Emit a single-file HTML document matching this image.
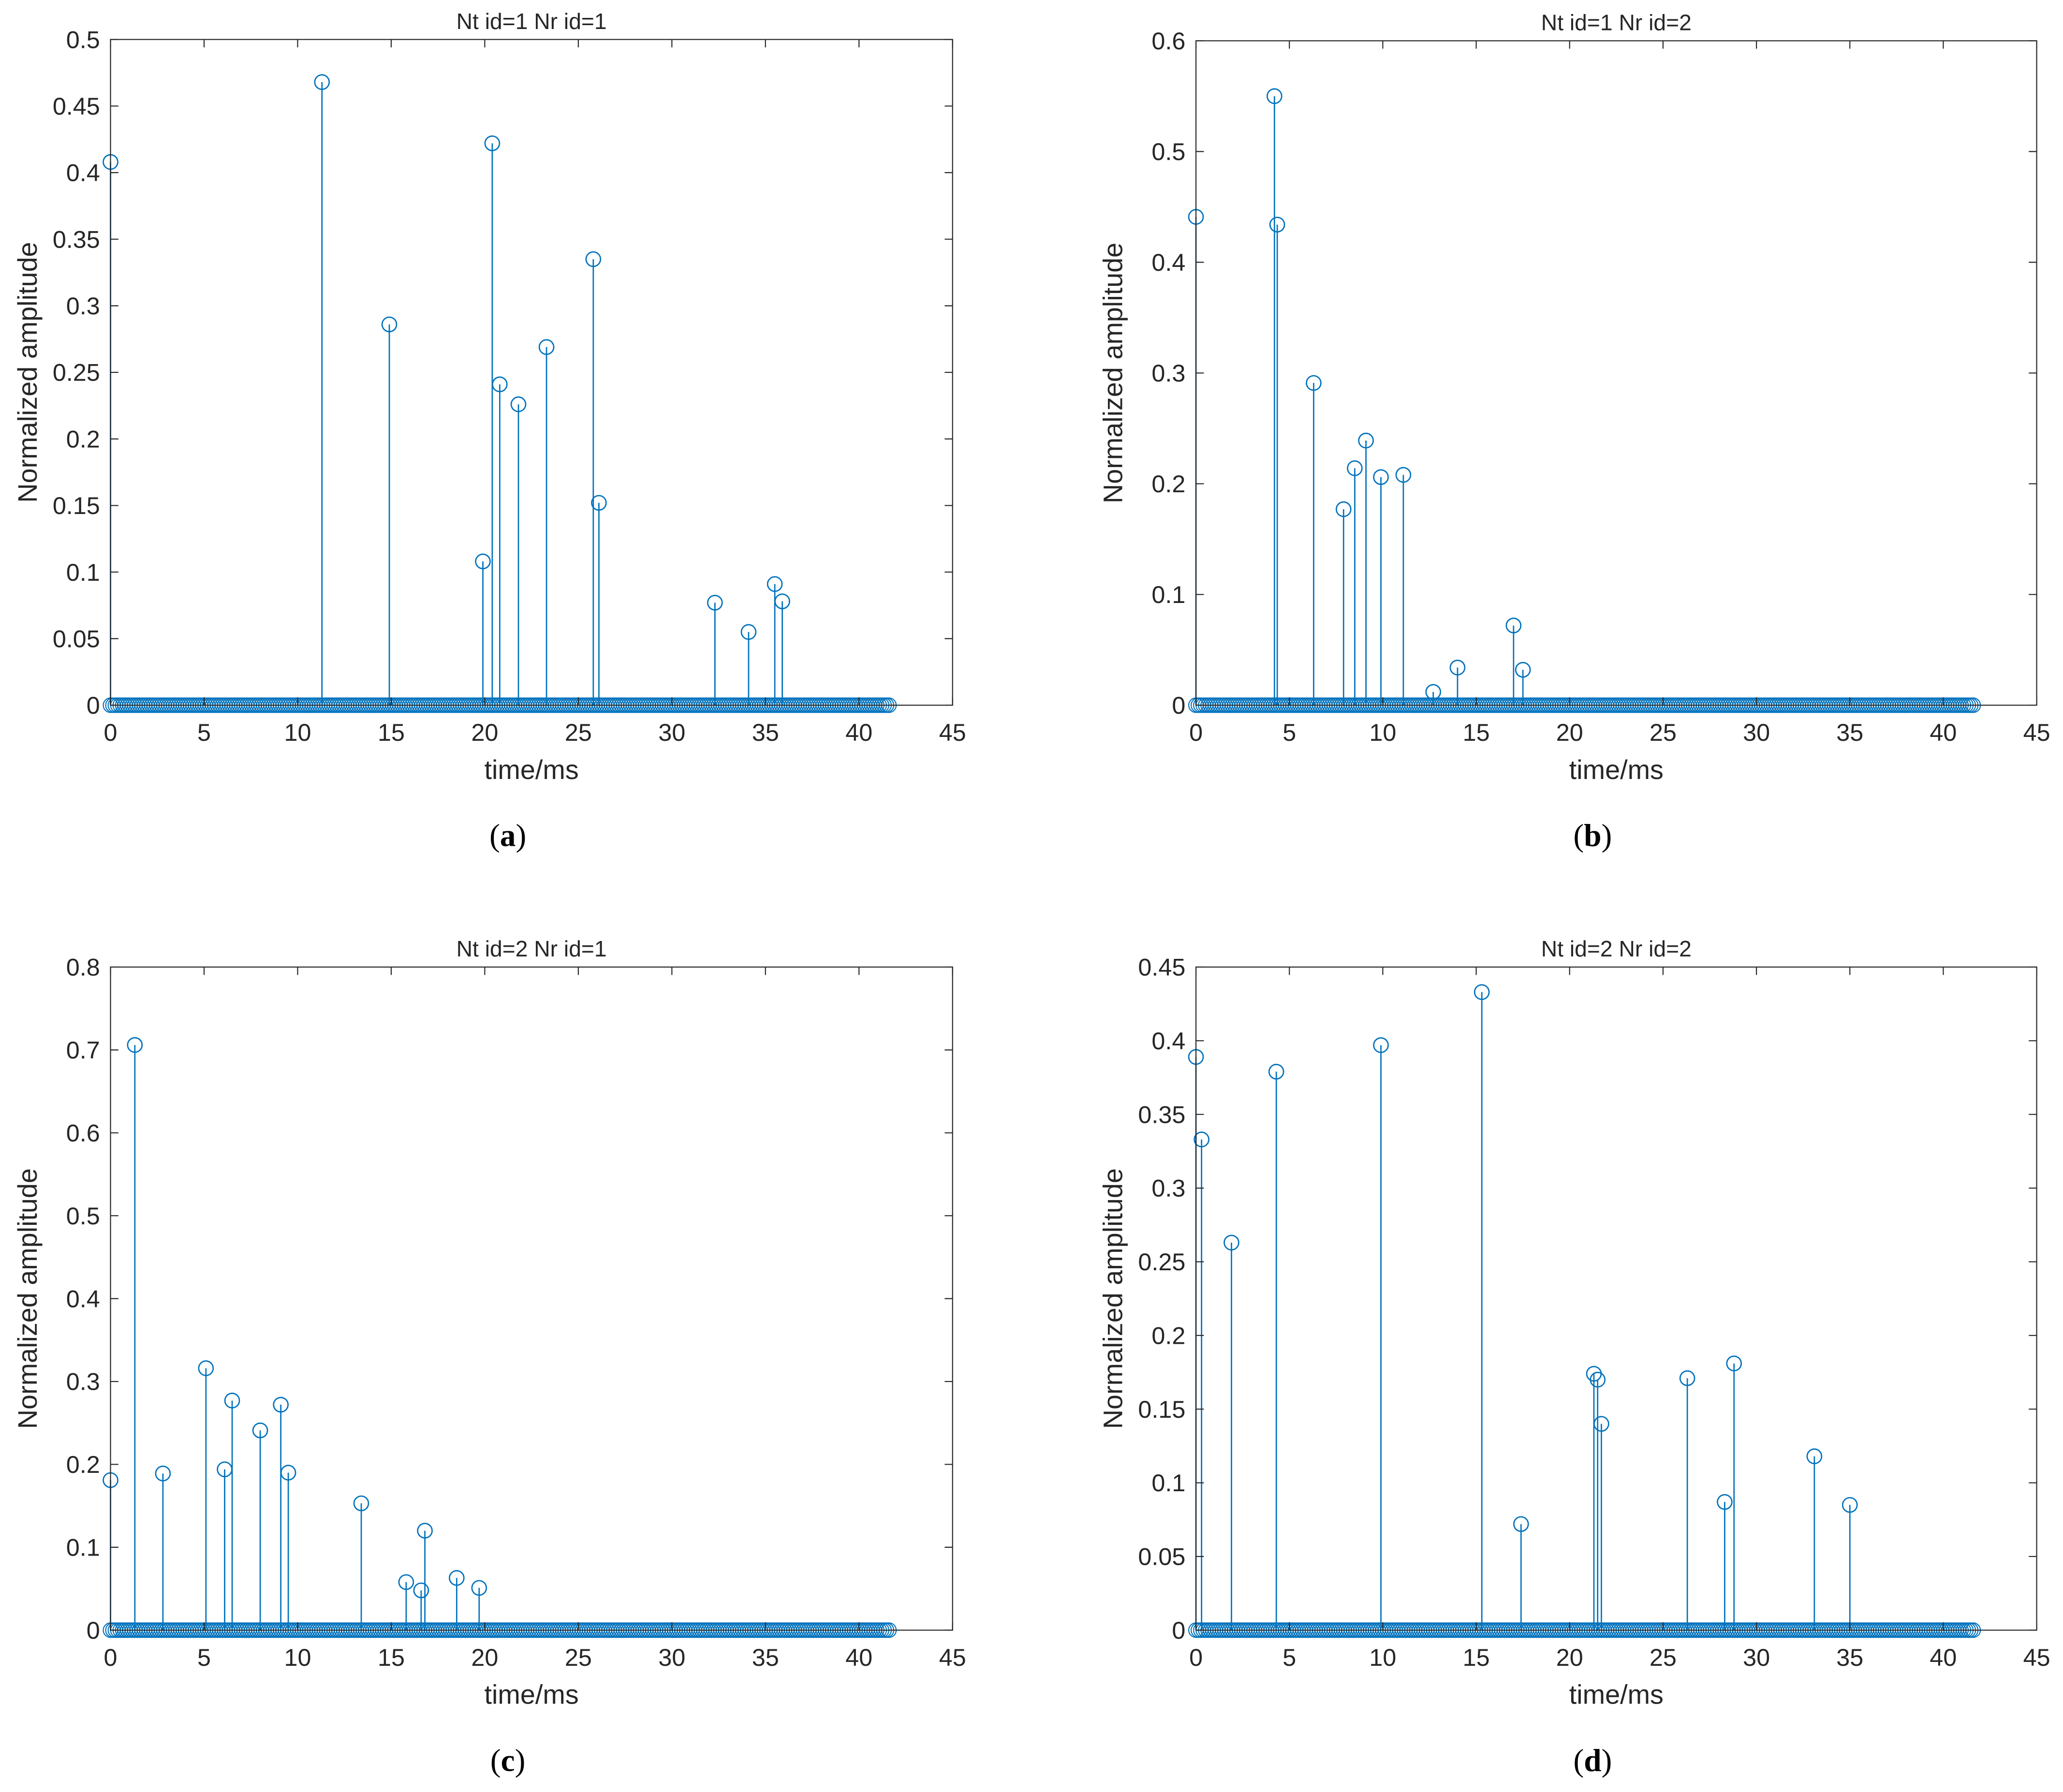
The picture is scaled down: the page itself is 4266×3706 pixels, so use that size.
<!DOCTYPE html>
<html><head><meta charset="utf-8"><style>
html,body{margin:0;padding:0;background:#fff;}
svg{display:block;}
text{font-family:"Liberation Sans",sans-serif;fill:#262626;}
</style></head><body>
<svg id="fig" width="4266" height="3706" viewBox="0 0 1568 1362" preserveAspectRatio="none" xmlns="http://www.w3.org/2000/svg"></svg>
<script>
const titles=["Nt id=1 Nr id=1","Nt id=1 Nr id=2","Nt id=2 Nr id=1","Nt id=2 Nr id=2"];
const captions=["(a)","(b)","(c)","(d)"];
const yMaxes=[0.5,0.6,0.8,0.45];
const yStepsArr=[0.05,0.1,0.1,0.05];
const xTicks=[0,5,10,15,20,25,30,35,40,45];
const tA=[0,11.3,14.9,19.9,20.4,20.8,21.8,23.3,25.8,26.1,32.3,34.1,35.5,35.9];
const vA=[0.408,0.468,0.286,0.108,0.422,0.241,0.226,0.269,0.335,0.152,0.077,0.055,0.091,0.078];
const tB=[0,4.2,4.35,6.3,7.9,8.5,9.1,9.9,11.1,12.7,14,17,17.5];
const vB=[0.441,0.55,0.434,0.291,0.177,0.214,0.239,0.206,0.208,0.012,0.034,0.072,0.032];
const tC=[0,1.3,2.8,5.1,6.1,6.5,8,9.1,9.5,13.4,15.8,16.6,16.8,18.5,19.7];
const vC=[0.181,0.706,0.189,0.316,0.194,0.277,0.241,0.272,0.19,0.153,0.058,0.048,0.12,0.063,0.051];
const tD=[0,0.3,1.9,4.3,9.9,15.3,17.4,21.3,21.5,21.7,26.3,28.3,28.8,33.1,35];
const vD=[0.389,0.333,0.263,0.379,0.397,0.433,0.072,0.174,0.17,0.14,0.171,0.087,0.181,0.118,0.085];
const times=[tA,tB,tC,tD], vals=[vA,vB,vC,vD];
const sampleStep=0.13, sampleEnd=41.6;

const NS="http://www.w3.org/2000/svg";
const svg=document.getElementById('fig');
function mk(tag,attrs,parent){const e=document.createElementNS(NS,tag);for(const k in attrs)e.setAttribute(k,attrs[k]);(parent||svg).appendChild(e);return e;}
const boxes=[{l:84,r:724,t:30,b:536},{l:909,r:1548,t:31,b:536},{l:84,r:724,t:735,b:1239},{l:909,r:1548,t:735,b:1239}];
const C="#0072BD";
for(let p=0;p<4;p++){
  const B=boxes[p];
  const g=mk('g',{});
  
  
  const xs=x=>B.l+x*(B.r-B.l)/45;
  const ys=y=>B.b-y*(B.b-B.t)/yMaxes[p];
  const bg=mk('rect',{x:B.l,y:B.t,width:B.r-B.l,height:B.b-B.t,fill:'#fff',stroke:'none'},g);
  
  
  const zg=mk('g',{fill:'none',stroke:C,'stroke-width':0.8},g);
  
  
  for(let t=0;t<=sampleEnd+1e-9;t+=sampleStep){mk('circle',{cx:xs(t),cy:ys(0),r:5.5},zg);}
  for(let i=0;i<times[p].length;i++){
    const x=xs(times[p][i]),y=ys(vals[p][i]);
    const ln=mk('line',{x1:x,x2:x,y1:ys(0),y2:y,stroke:C,'stroke-width':1},g);
    
    
    const c=mk('circle',{cx:x,cy:y,r:5.5,fill:'none',stroke:C,'stroke-width':1},g);
    
    
  }
  mk('rect',{x:B.l,y:B.t,width:B.r-B.l,height:B.b-B.t,fill:'none',stroke:'#262626','stroke-width':0.8},g);
  for(const v of xTicks){
    const x=xs(v);
    mk('line',{x1:x,x2:x,y1:B.b,y2:B.b-6,stroke:'#262626','stroke-width':0.8},g);
    mk('line',{x1:x,x2:x,y1:B.t,y2:B.t+6,stroke:'#262626','stroke-width':0.8},g);
    const tx=mk('text',{x:x,y:B.b+27,'font-size':18.5,'text-anchor':'middle'},g);tx.textContent=v;
    
    
  }
  const n=Math.round(yMaxes[p]/yStepsArr[p]);
  for(let k=0;k<=n;k++){
    const v=+(k*yStepsArr[p]).toFixed(2),y=ys(v);
    mk('line',{x1:B.l,x2:B.l+6,y1:y,y2:y,stroke:'#262626','stroke-width':0.8},g);
    mk('line',{x1:B.r,x2:B.r-6,y1:y,y2:y,stroke:'#262626','stroke-width':0.8},g);
    const ty=mk('text',{x:B.l-8,y:y+6.5,'font-size':18.5,'text-anchor':'end'},g);ty.textContent=String(v);
    
    
  }
  const cx=(B.l+B.r)/2;
  const tt=mk('text',{x:cx,y:B.t-8,'font-size':17,'text-anchor':'middle'},g);tt.textContent=titles[p];
  
  
  const xl=mk('text',{x:cx,y:B.b+56,'font-size':20.5,'text-anchor':'middle'},g);xl.textContent='time/ms';
  
  
  const yc=(B.t+B.b)/2, yx=B.l-56;
  const yl=mk('text',{x:yx,y:yc,'font-size':20.5,'text-anchor':'middle',transform:`rotate(-90 ${yx} ${yc})`},g);yl.textContent='Normalized amplitude';
  
  
  const cp=mk('text',{x:cx-18,y:B.b+107,'font-size':24,'text-anchor':'middle',style:'font-family:"Liberation Serif",serif;fill:#000'},g);
  cp.innerHTML='(<tspan font-weight="bold">'+captions[p].replace(/[()]/g,'')+'</tspan>)';
  
  
}
</script>
</body></html>
